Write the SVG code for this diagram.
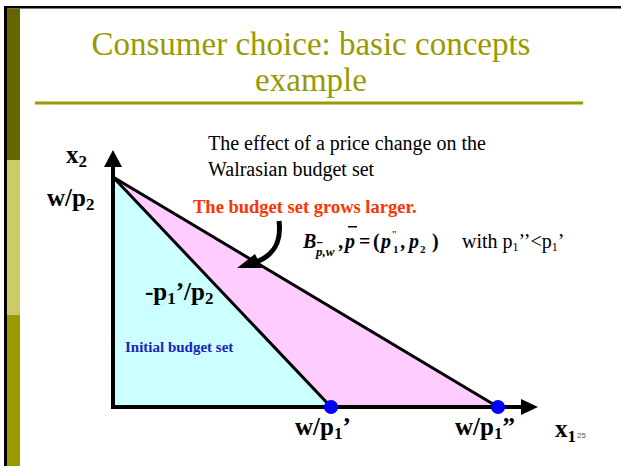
<svg xmlns="http://www.w3.org/2000/svg" width="621" height="466" viewBox="0 0 621 466">
<style>
.title{font-family:"Liberation Serif",serif;font-size:33px;fill:#999900;text-anchor:middle}
.lbl{font-family:"Liberation Serif",serif;font-weight:bold;font-size:25px;fill:#000}
.sub{font-size:17px}
.body{font-family:"Liberation Serif",serif;font-size:20px;fill:#000}
.red{font-family:"Liberation Serif",serif;font-weight:bold;font-size:18.5px;fill:#FF3300}
.blue{font-family:"Liberation Serif",serif;font-weight:bold;font-size:15px;fill:#2222BB}
.fm{font-family:"Liberation Serif",serif;font-weight:bold;font-style:italic;font-size:20px;fill:#000}
.fr{font-family:"Liberation Serif",serif;font-weight:bold;font-size:20px;fill:#000}
.fs{font-family:"Liberation Serif",serif;font-weight:bold;font-size:11px;fill:#000}
.line{stroke:#000;stroke-width:3;fill:none}
.axis{stroke:#000;stroke-width:4;fill:none}
</style>
<rect x="0" y="0" width="621" height="466" fill="#fff"/>
<!-- slide frame -->
<rect x="4" y="6" width="617" height="2.5" fill="#000"/>
<rect x="4" y="6" width="3" height="460" fill="#000"/>
<rect x="7" y="8.5" width="13" height="151.5" fill="#666600"/>
<rect x="7" y="160" width="13" height="155" fill="#CCCC66"/>
<rect x="7" y="315" width="13" height="151" fill="#999900"/>
<!-- title -->
<g id="title">
<text class="title" x="311" y="55">Consumer choice: basic concepts</text>
<text class="title" x="311" y="91">example</text>
<rect x="35" y="101.5" width="548" height="3" fill="#999900"/>
</g>
<!-- regions -->
<g id="initial-set">
<polygon points="113,177 113,407 331,407" fill="#CCFFFF"/>
<text class="blue" x="125" y="352">Initial budget set</text>
</g>
<g id="added-set">
<polygon points="113,177 331,407 498,407" fill="#FFCCFF"/>
</g>
<g id="connectors">
<line class="line" x1="113" y1="177" x2="331" y2="407"/>
<line class="line" x1="113" y1="177" x2="498" y2="407"/>
<line class="axis" x1="113" y1="409" x2="113" y2="166"/>
<polygon points="113,150 104,167 122,167" fill="#000"/>
<line class="axis" x1="111" y1="407" x2="522" y2="407"/>
<polygon points="538,407 521,399 521,415" fill="#000"/>
<path d="M279,221 C282,245 272,258 250,264" stroke="#000" stroke-width="5" fill="none"/>
<polygon points="237,268 255,254 262,268" fill="#000"/>
</g>
<g id="dot1"><circle cx="331" cy="407" r="7" fill="#0000FF"/></g>
<g id="dot2"><circle cx="498" cy="407" r="7" fill="#0000FF"/></g>
<!-- axis labels -->
<g id="labels">
<text class="lbl" x="66" y="163">x<tspan class="sub" dy="4">2</tspan></text>
<text class="lbl" x="47" y="206">w/p<tspan class="sub" dy="4">2</tspan></text>
<text class="lbl" x="145" y="300">-p<tspan class="sub" dy="4">1</tspan><tspan dy="-4">’/p</tspan><tspan class="sub" dy="4">2</tspan></text>
<text class="lbl" x="295" y="435">w/p<tspan class="sub" dy="4">1</tspan><tspan dy="-4">’</tspan></text>
<text class="lbl" x="455" y="435">w/p<tspan class="sub" dy="4">1</tspan><tspan dy="-4">”</tspan></text>
<text class="lbl" x="555" y="437">x<tspan class="sub" dy="5">1</tspan></text>
<text x="577" y="438" font-family="Liberation Sans,sans-serif" font-size="8" fill="#555">25</text>
</g>
<g id="caption">
<text class="body" x="208" y="150">The effect of a price change on the</text>
<text class="body" x="208" y="176">Walrasian budget set</text>
<text class="red" x="193" y="213">The budget set grows larger.</text>
</g>
<g id="formula">
<text class="fm" x="303" y="248">B</text>
<text class="fm" x="316" y="256" style="font-size:13px">p,w</text>
<rect x="317" y="242" width="5.5" height="1.2" fill="#000"/>
<text class="fm" x="339" y="248">,</text>
<text class="fm" x="345" y="248">p</text>
<rect x="348" y="226" width="9" height="1.5" fill="#000"/>
<text class="fr" x="359" y="248">=</text>
<text class="fr" x="373" y="248">(</text>
<text class="fm" x="381" y="248">p</text>
<text class="fs" x="393" y="253">1</text>
<text x="392" y="238" font-family="Liberation Serif,serif" font-size="11">"</text>
<text class="fm" x="401" y="248">,</text>
<text class="fm" x="409" y="248">p</text>
<text class="fs" x="420" y="253">2</text>
<text class="fr" x="432" y="248">)</text>
<text class="body" x="462" y="248">with p<tspan style="font-size:12px" dy="3">1</tspan><tspan dy="-3">’’&lt;p</tspan><tspan style="font-size:12px" dy="3">1</tspan><tspan dy="-3">’</tspan></text>
</g>
</svg>
